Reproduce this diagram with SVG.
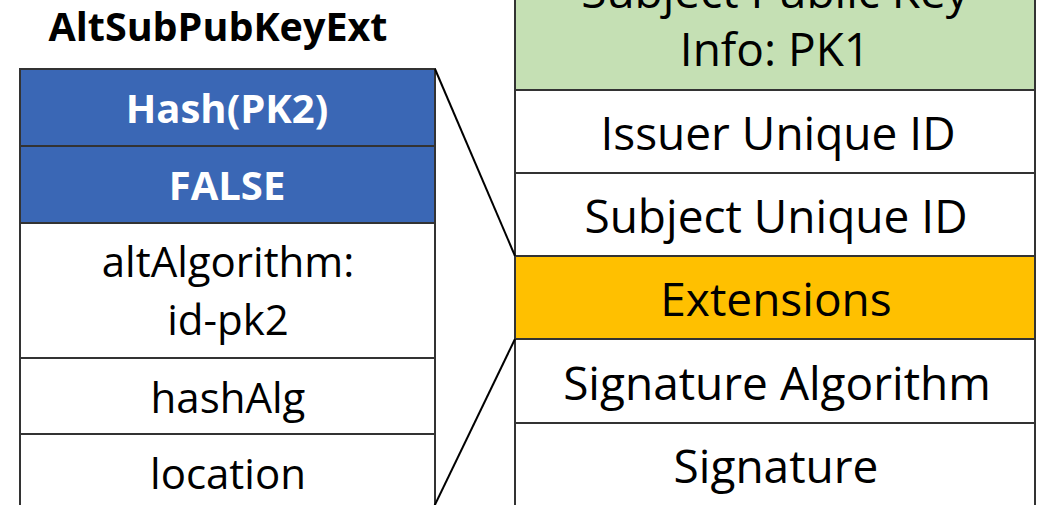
<svg xmlns="http://www.w3.org/2000/svg" width="1043" height="505" viewBox="0 0 1043 505">
  <style>
    .cell { stroke: #333333; stroke-width: 2; }
    .white { fill: #FFFFFF; }
    .blue { fill: #3A67B5; }
    .green { fill: #C5E0B4; }
    .orange { fill: #FFC000; }
    .lbl { font-family: "Open Sans", "Liberation Sans", sans-serif; font-size: 46px; fill: #000000; text-anchor: middle; }
    .small { font-size: 42px; }
    .bold { font-weight: bold; }
    .inv { fill: #FFFFFF; font-size: 40px; }
    .link { stroke: #000000; stroke-width: 2; fill: none; }
  </style>
  <rect width="1043" height="505" fill="#FFFFFF"/>

  <!-- extension title -->
  <g id="title">
    <text class="lbl bold" x="218" y="41" style="font-size:39.5px">AltSubPubKeyExt</text>
  </g>

  <!-- extension fields (left column) -->
  <g id="hash-pk2">
    <rect class="cell blue" x="20" y="69" width="415" height="77"/>
    <text class="lbl bold inv" x="227" y="123">Hash(PK2)</text>
  </g>
  <g id="critical">
    <rect class="cell blue" x="20" y="146" width="415" height="77"/>
    <text class="lbl bold inv" x="227" y="200">FALSE</text>
  </g>
  <g id="alt-algorithm">
    <rect class="cell white" x="20" y="223" width="415" height="135"/>
    <text class="lbl small" x="228" y="277">altAlgorithm:</text>
    <text class="lbl small" x="228" y="335">id-pk2</text>
  </g>
  <g id="hash-alg">
    <rect class="cell white" x="20" y="358" width="415" height="76"/>
    <text class="lbl small" x="228" y="413">hashAlg</text>
  </g>
  <g id="location">
    <rect class="cell white" x="20" y="434" width="415" height="90"/>
    <text class="lbl small" x="228" y="489">location</text>
  </g>

  <!-- certificate fields (right column) -->
  <g id="subject-public-key">
    <rect class="cell green" x="515" y="-80" width="520" height="170"/>
    <text class="lbl" x="775" y="8">Subject Public Key</text>
    <text class="lbl" x="775" y="66">Info: PK1</text>
  </g>
  <g id="issuer-uid">
    <rect class="cell white" x="515" y="90" width="520" height="83"/>
    <text class="lbl" x="778" y="150">Issuer Unique ID</text>
  </g>
  <g id="subject-uid">
    <rect class="cell white" x="515" y="173" width="520" height="83"/>
    <text class="lbl" x="776" y="233">Subject Unique ID</text>
  </g>
  <g id="extensions">
    <rect class="cell orange" x="515" y="256" width="520" height="83"/>
    <text class="lbl" x="776" y="316">Extensions</text>
  </g>
  <g id="signature-algorithm">
    <rect class="cell white" x="515" y="339" width="520" height="84"/>
    <text class="lbl" x="777" y="400">Signature Algorithm</text>
  </g>
  <g id="signature">
    <rect class="cell white" x="515" y="423" width="520" height="100"/>
    <text class="lbl" x="776" y="483">Signature</text>
  </g>

  <!-- zoom lines from Extensions to the expanded extension -->
  <g id="connectors">
    <line class="link" x1="435" y1="69" x2="515" y2="256"/>
    <line class="link" x1="515" y1="339" x2="430" y2="515"/>
  </g>
</svg>
